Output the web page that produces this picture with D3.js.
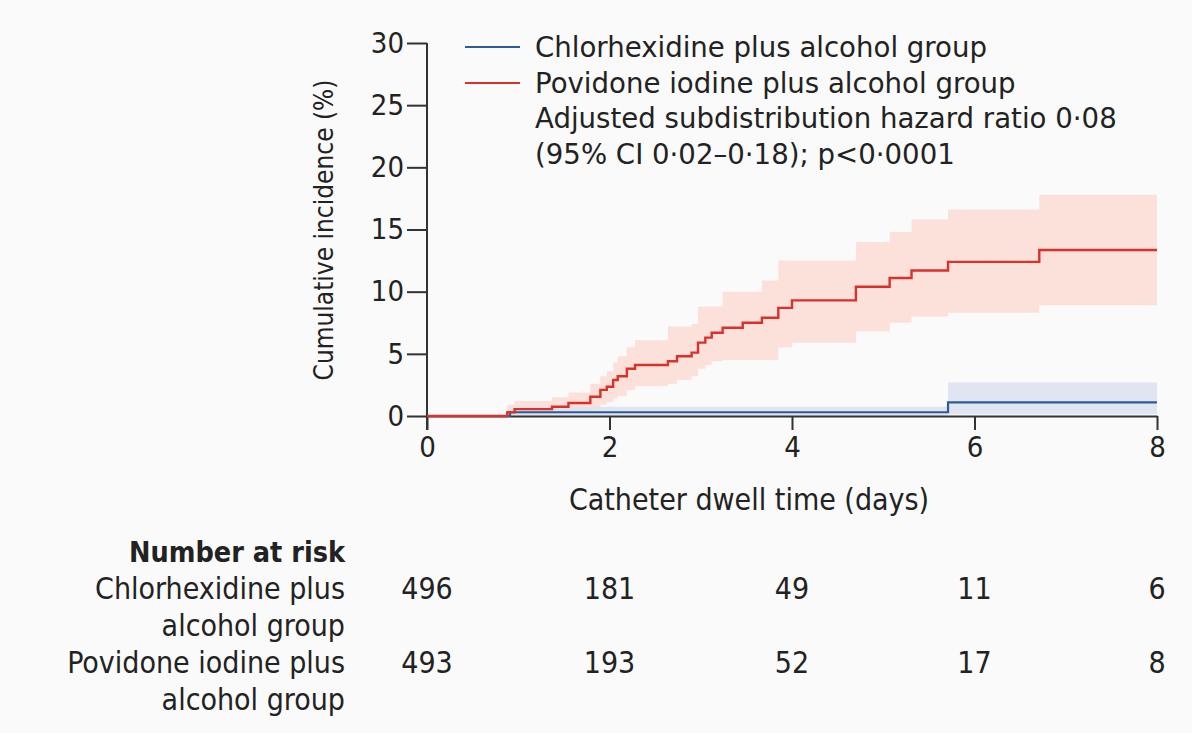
<!DOCTYPE html>
<html>
<head>
<meta charset="utf-8">
<script src="https://cdn.jsdelivr.net/npm/d3@7"></script>
<style>
  body { margin: 0; background: #fafafa; }
  svg { display: block; }
  .cond { font-family: "Liberation Sans Narrow", "DejaVu Sans Condensed", "Roboto Condensed", "Open Sans", sans-serif; }
  .leg { font-family: "DejaVu Sans", "Open Sans", sans-serif; }
</style>
</head>
<body>
<svg id="chart" width="1192" height="733"></svg>
<script>
// Povidone iodine plus alcohol group (step function, % cumulative incidence)
const povTimes  = [0, 0.88, 0.96, 1.37, 1.55, 1.79, 1.90, 1.97, 2.04, 2.09, 2.19, 2.28, 2.64, 2.74, 2.90, 2.97, 3.05, 3.12, 3.24, 3.46, 3.67, 3.85, 4.00, 4.70, 5.07, 5.31, 5.71, 6.71, 8];
const povValues = [0, 0.3, 0.55, 0.75, 1.05, 1.55, 2.1, 2.35, 2.9, 3.2, 3.8, 4.1, 4.4, 4.8, 5.1, 5.9, 6.3, 6.7, 7.1, 7.5, 7.9, 8.7, 9.3, 10.4, 11.1, 11.7, 12.4, 13.35, 13.35];
const povLower  = [0, 0, 0.05, 0.15, 0.3, 0.6, 0.9, 1.1, 1.4, 1.6, 2.1, 2.4, 2.6, 2.9, 3.2, 3.8, 4.1, 4.4, 4.5, 4.5, 4.5, 5.5, 5.9, 6.8, 7.5, 8.0, 8.3, 8.9, 8.9];
const povUpper  = [0, 0.9, 1.2, 1.5, 1.9, 2.6, 3.2, 3.6, 4.3, 4.8, 5.5, 6.1, 7.2, 7.2, 7.4, 8.8, 8.8, 8.8, 10.0, 10.0, 10.9, 12.5, 12.5, 14.0, 14.8, 15.8, 16.6, 17.8, 17.8];

// Chlorhexidine plus alcohol group
const chlTimes  = [0, 0.91, 5.71, 8];
const chlValues = [0, 0.3, 1.1, 1.1];
const chlLower  = [0, 0.05, 0.15, 0.15];
const chlUpper  = [0, 0.75, 2.7, 2.7];

const xTicks = [0, 2, 4, 6, 8];
const yTicks = [0, 5, 10, 15, 20, 25, 30];

const riskTimes = [0, 2, 4, 6, 8];
const chlRisk = [496, 181, 49, 11, 6];
const povRisk = [493, 193, 52, 17, 8];

const legendLines = [
  "Chlorhexidine plus alcohol group",
  "Povidone iodine plus alcohol group",
  "Adjusted subdistribution hazard ratio 0\u00b708",
  "(95% CI 0\u00b702\u20130\u00b718); p<0\u00b70001"
];

const redLine = "#d8322b", redBand = "#fbe1d9";
const blueLine = "#2c5b98", blueBand = "#dde2ef";
const axisCol = "#333";

const svg = d3.select("#chart");
const x = d3.scaleLinear().domain([0, 8]).range([427, 1157]);
const y = d3.scaleLinear().domain([0, 30]).range([416, 43]);

const toRows = (t, v, lo, hi) => t.map((d, i) => ({ t: d, v: v[i], lo: lo[i], hi: hi[i] }));
const pov = toRows(povTimes, povValues, povLower, povUpper);
const chl = toRows(chlTimes, chlValues, chlLower, chlUpper);

const area = d3.area().curve(d3.curveStepAfter).x(d => x(d.t)).y0(d => y(d.lo)).y1(d => y(d.hi));
const line = d3.line().curve(d3.curveStepAfter).x(d => x(d.t)).y(d => y(d.v));

// bands
svg.append("path").datum(pov).attr("d", area).attr("fill", redBand);
svg.append("path").datum(chl).attr("d", area).attr("fill", blueBand).attr("opacity", 0.9);

// y axis
const yAxis = svg.append("g").attr("transform", `translate(${x(0)},0)`)
  .call(d3.axisLeft(y).tickValues(yTicks).tickSize(20).tickPadding(3));
yAxis.select(".domain").remove();
yAxis.append("line").attr("x1", 0).attr("x2", 0).attr("y1", y(30)).attr("y2", 430)
  .attr("stroke", axisCol).attr("stroke-width", 2);
yAxis.selectAll(".tick line").attr("stroke", axisCol).attr("stroke-width", 2);
yAxis.selectAll(".tick text").attr("class", "cond").attr("fill", "#222").style("font-size", "29px");

// x axis
const xAxis = svg.append("g").attr("transform", `translate(0,${y(0)})`)
  .call(d3.axisBottom(x).tickValues(xTicks).tickSize(14).tickSizeOuter(0).tickPadding(6));
xAxis.select(".domain").attr("stroke", axisCol).attr("stroke-width", 2);
xAxis.selectAll(".tick line").attr("stroke", axisCol).attr("stroke-width", 2);
xAxis.selectAll(".tick text").attr("class", "cond").attr("fill", "#222").style("font-size", "29px");

// lines
svg.append("path").datum(chl).attr("d", line).attr("fill", "none").attr("stroke", blueLine).attr("stroke-width", 2.2);
svg.append("path").datum(pov).attr("d", line).attr("fill", "none").attr("stroke", redLine).attr("stroke-width", 2.4);

// axis titles
svg.append("text").attr("class", "cond")
  .attr("transform", `translate(325,230) rotate(-90)`)
  .attr("text-anchor", "middle").attr("dominant-baseline", "middle")
  .attr("fill", "#222").style("font-size", "26px")
  .text("Cumulative incidence (%)");
svg.append("text").attr("class", "cond")
  .attr("x", 749).attr("y", 510).attr("text-anchor", "middle")
  .attr("fill", "#222").style("font-size", "30px")
  .text("Catheter dwell time (days)");

// legend
const leg = svg.append("g");
legendLines.forEach((txt, i) => {
  leg.append("text").attr("class", "leg").attr("x", 535).attr("y", 57 + i * 35.5)
    .attr("fill", "#222").style("font-size", "27.6px").text(txt);
});
leg.append("line").attr("x1", 465).attr("x2", 520).attr("y1", 47).attr("y2", 47).attr("stroke", blueLine).attr("stroke-width", 2);
leg.append("line").attr("x1", 465).attr("x2", 520).attr("y1", 83).attr("y2", 83).attr("stroke", redLine).attr("stroke-width", 2);

// number at risk table
const risk = svg.append("g").attr("class", "cond").attr("fill", "#222").style("font-size", "30px");
risk.append("text").attr("x", 345).attr("y", 562).attr("text-anchor", "end").attr("font-weight", "bold")
  .style("font-size", "28.5px").text("Number at risk");
const rows = [
  { lines: ["Chlorhexidine plus", "alcohol group"], vals: chlRisk, y0: 599 },
  { lines: ["Povidone iodine plus", "alcohol group"], vals: povRisk, y0: 673 }
];
rows.forEach(r => {
  r.lines.forEach((l, i) => {
    risk.append("text").attr("x", 345).attr("y", r.y0 + i * 37).attr("text-anchor", "end").text(l);
  });
  risk.selectAll(null).data(r.vals).enter().append("text")
    .attr("x", (d, i) => x(riskTimes[i])).attr("y", r.y0).attr("text-anchor", "middle").text(d => d);
});
</script>
</body>
</html>
